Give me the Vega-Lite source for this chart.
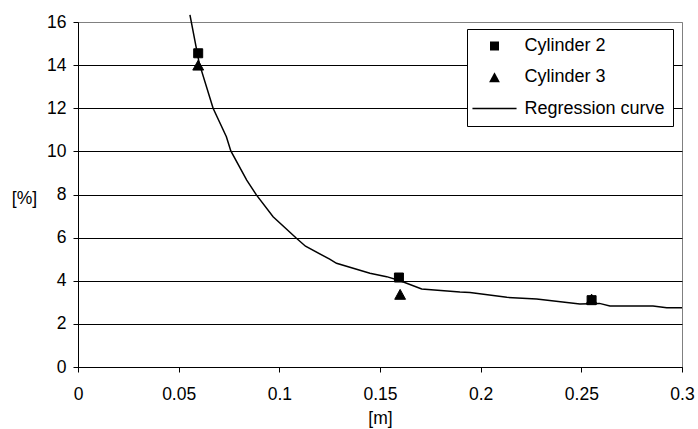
{
  "$schema": "https://vega.github.io/schema/vega-lite/v6.json",
  "width": 604,
  "height": 345,
  "autosize": {"type": "none"},
  "padding": {"left": 78, "top": 22, "right": 16, "bottom": 62},
  "background": "white",
  "config": {
    "font": "Liberation Sans",
    "view": {"stroke": "#808080", "strokeWidth": 1},
    "axis": {
      "labelFont": "Liberation Sans",
      "labelFontSize": 17.5,
      "labelColor": "black",
      "titleFont": "Liberation Sans",
      "titleFontSize": 17.5,
      "titleFontWeight": "normal",
      "titleColor": "black",
      "domainColor": "black",
      "tickColor": "black",
      "tickSize": 5
    }
  },
  "datasets": {
    "points": [
      {"x": 0.0597, "y": 14.55, "series": "Cylinder 2"},
      {"x": 0.1594, "y": 4.15, "series": "Cylinder 2"},
      {"x": 0.2551, "y": 3.1, "series": "Cylinder 2"},
      {"x": 0.0597, "y": 14.0, "series": "Cylinder 3"},
      {"x": 0.16, "y": 3.37, "series": "Cylinder 3"},
      {"x": 0.2551, "y": 3.15, "series": "Cylinder 3"}
    ],
    "curve": [
      {"x": 0.0556, "y": 16.33},
      {"x": 0.0602, "y": 14.09},
      {"x": 0.0671, "y": 12.0},
      {"x": 0.0737, "y": 10.68},
      {"x": 0.0759, "y": 10.02},
      {"x": 0.0838, "y": 8.67},
      {"x": 0.0886, "y": 7.98},
      {"x": 0.0969, "y": 6.97},
      {"x": 0.1085, "y": 5.97},
      {"x": 0.113, "y": 5.6},
      {"x": 0.125, "y": 5.0},
      {"x": 0.1284, "y": 4.81},
      {"x": 0.145, "y": 4.35},
      {"x": 0.1533, "y": 4.19},
      {"x": 0.16, "y": 4.0},
      {"x": 0.1707, "y": 3.62},
      {"x": 0.1897, "y": 3.48},
      {"x": 0.1947, "y": 3.46},
      {"x": 0.213, "y": 3.23},
      {"x": 0.2278, "y": 3.15},
      {"x": 0.2493, "y": 2.92},
      {"x": 0.259, "y": 2.95},
      {"x": 0.2642, "y": 2.83},
      {"x": 0.2856, "y": 2.83},
      {"x": 0.2924, "y": 2.75},
      {"x": 0.3, "y": 2.75}
    ]
  },
  "layer": [
    {
      "data": {"name": "curve"},
      "mark": {"type": "line", "color": "black", "strokeWidth": 1.5},
      "encoding": {
        "x": {
          "field": "x", "type": "quantitative",
          "scale": {"domain": [0, 0.3], "nice": false, "zero": false},
          "axis": {
            "values": [0, 0.05, 0.1, 0.15, 0.2, 0.25, 0.3],
            "format": "~g",
            "grid": false,
            "labelPadding": 13,
            "labelFlush": false,
            "title": "[m]",
            "titleY": 56,
            "titleBaseline": "alphabetic"
          }
        },
        "y": {
          "field": "y", "type": "quantitative",
          "scale": {"domain": [0, 16], "nice": false},
          "axis": {
            "values": [0, 2, 4, 6, 8, 10, 12, 14, 16],
            "grid": true,
            "gridColor": {"condition": {"test": "datum.value === 16", "value": "#808080"}, "value": "black"},
            "gridOpacity": 1,
            "gridWidth": 1,
            "labelPadding": 7,
            "labelFlush": false,
            "title": "[%]",
            "titleAngle": 0,
            "titleX": -54,
            "titleY": 181,
            "titleAlign": "center",
            "titleBaseline": "alphabetic"
          }
        }
      }
    },
    {
      "data": {"name": "points"},
      "mark": {"type": "point", "filled": false, "stroke": "black", "fill": "black", "strokeWidth": 1, "opacity": 1, "size": 81},
      "encoding": {
        "x": {"field": "x", "type": "quantitative"},
        "y": {"field": "y", "type": "quantitative"},
        "shape": {
          "field": "series", "type": "nominal",
          "scale": {
            "domain": ["Cylinder 2", "Cylinder 3", "Regression curve"],
            "range": ["square", "M 0 -1.1 L -1.2 1.1 L 1.2 1.1 Z", "M -4.9 -0.17 L 4.9 -0.17 L 4.9 0.17 L -4.9 0.17 Z"]
          },
          "legend": {
            "title": null,
            "orient": "none",
            "legendX": 389,
            "legendY": 7,
            "padding": 8,
            "symbolOffset": 10.5,
            "labelOffset": 21,
            "rowPadding": 13.3,
            "symbolSize": 81,
            "labelFont": "Liberation Sans",
            "labelFontSize": 18,
            "labelColor": "black",
            "strokeColor": "black",
            "fillColor": "white",
            "symbolFillColor": "black",
            "symbolStrokeColor": "black",
            "symbolStrokeWidth": 1,
            "symbolOpacity": 1
          }
        }
      }
    }
  ]
}
